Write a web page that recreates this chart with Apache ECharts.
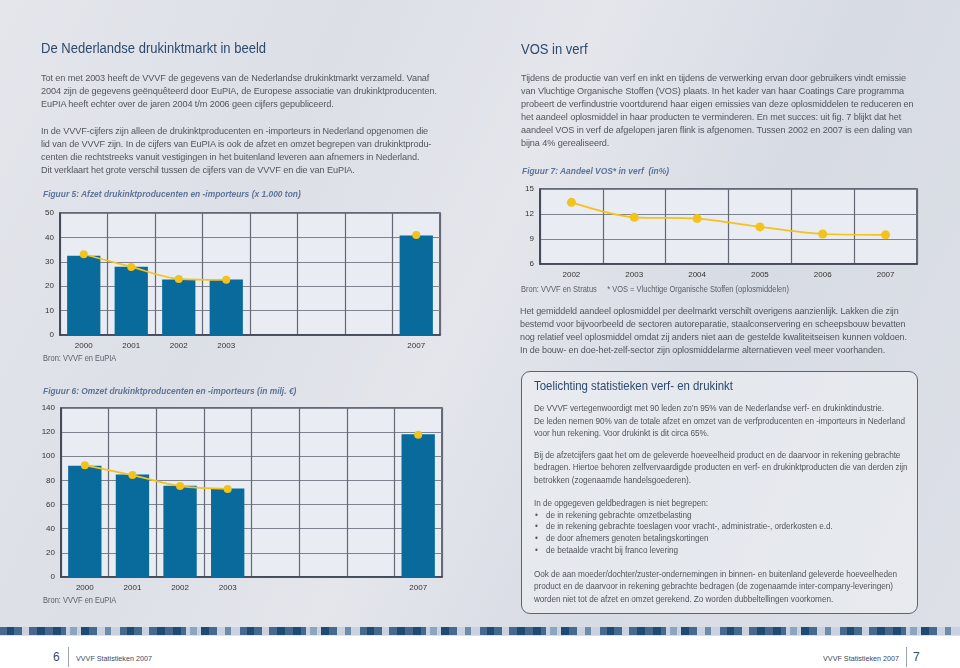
<!DOCTYPE html>
<html>
<head>
<meta charset="utf-8">
<script src="https://cdn.jsdelivr.net/npm/echarts@6/dist/echarts.min.js"></script>
<style>
  html, body { margin:0; padding:0; }
  body { width:960px; height:668px; position:relative; overflow:hidden;
    font-family:"Liberation Sans", Arial, Helvetica, sans-serif;
    background: linear-gradient(115deg, #e4e6ec 0%, #dcdfe6 28%, #e4e6ec 48%, #d7dbe3 68%, #dde0e7 100%); }
  #chart { position:absolute; left:0; top:0; width:960px; height:668px; }
  .t { position:absolute; white-space:nowrap; color:#52565d; transform-origin:left top; }
  .h1 { font-size:14px; line-height:18px; color:#2d4a6d; transform:scaleX(0.93); }
  .p { font-size:9.4px; line-height:13px; letter-spacing:-0.1px; transform:scaleX(0.975); }
  .cap { font-size:9.6px; line-height:13px; font-weight:bold; font-style:italic; color:#5c7599; transform:scaleX(0.877); }
  .src { font-size:8.6px; line-height:13px; color:#5a5e66; transform:scaleX(0.872); }
  .box { position:absolute; left:521px; top:371px; width:395px; height:241px; border:1px solid #55657a;
    border-radius:9px; background:rgba(240,242,246,0.55); }
  .bt { font-size:12.4px; line-height:16px; color:#2d4a6d; transform:scaleX(0.92); }
  .bp { font-size:8.2px; line-height:12.5px; letter-spacing:-0.05px; }
  .bul { position:absolute; left:2px; }
  #stripe { position:absolute; left:0; top:627px; width:960px; height:8px;
    background: repeating-linear-gradient(to right,
      #46698f 0px, #46698f 7px, #1d4b73 7px, #1d4b73 14px, #46698f 14px, #46698f 22px,
      #c9d2de 22px, #c9d2de 29px,
      #46698f 29px, #46698f 37px, #1d4b73 37px, #1d4b73 45px, #46698f 45px, #46698f 53px, #1d4b73 53px, #1d4b73 61px, #46698f 61px, #46698f 66px,
      #c9d2de 66px, #c9d2de 70px, #8ea5bf 70px, #8ea5bf 77px, #c9d2de 77px, #c9d2de 81px,
      #1d4b73 81px, #1d4b73 89px, #46698f 89px, #46698f 97px, #c9d2de 97px, #c9d2de 105px,
      #6f8bab 105px, #6f8bab 111px, #c9d2de 111px, #c9d2de 120px); }
  #footer { position:absolute; left:0; top:636px; width:960px; height:32px; background:#ffffff; }
  .pn { position:absolute; font-size:12px; color:#3a4a60; top:650px; }
  .ft { position:absolute; font-size:7.2px; color:#3a4a60; top:653.5px; white-space:nowrap; }
  .sep { position:absolute; top:647px; width:1px; height:20px; background:#9aa3b0; }
</style>
</head>
<body>
<div id="stripe"></div>
<div id="footer"></div>
<div class="pn" style="left:53px;">6</div>
<div class="sep" style="left:68px;"></div>
<div class="ft" style="left:76px;">VVVF Statistieken 2007</div>
<div class="ft" style="right:61px;">VVVF Statistieken 2007</div>
<div class="sep" style="left:906px;"></div>
<div class="pn" style="left:913px;">7</div>

<div class="box"></div>
<div id="chart"></div>

<div class="t h1" style="left:41px; top:39px;">De Nederlandse drukinktmarkt in beeld</div>
<div class="t p" style="left:41px; top:70.5px;">Tot en met 2003 heeft de VVVF de gegevens van de Nederlandse drukinktmarkt verzameld. Vanaf<br>2004 zijn de gegevens geënquêteerd door EuPIA, de Europese associatie van drukinktproducenten.<br>EuPIA heeft echter over de jaren 2004 t/m 2006 geen cijfers gepubliceerd.</div>
<div class="t p" style="left:41px; top:123.5px;">In de VVVF-cijfers zijn alleen de drukinktproducenten en -importeurs in Nederland opgenomen die<br>lid van de VVVF zijn. In de cijfers van EuPIA is ook de afzet en omzet begrepen van drukinktprodu-<br>centen die rechtstreeks vanuit vestigingen in het buitenland leveren aan afnemers in Nederland.<br>Dit verklaart het grote verschil tussen de cijfers van de VVVF en die van EuPIA.</div>
<div class="t cap" style="left:43px; top:186.5px;">Figuur 5: Afzet drukinktproducenten en -importeurs (x 1.000 ton)</div>
<div class="t src" style="left:43px; top:351.5px;">Bron: VVVF en EuPIA</div>
<div class="t cap" style="left:43px; top:383.5px;">Figuur 6: Omzet drukinktproducenten en -importeurs (in milj. €)</div>
<div class="t src" style="left:43px; top:593.5px;">Bron: VVVF en EuPIA</div>

<div class="t h1" style="left:521px; top:40px;">VOS in verf</div>
<div class="t p" style="left:521px; top:70.5px;">Tijdens de productie van verf en inkt en tijdens de verwerking ervan door gebruikers vindt emissie<br>van Vluchtige Organische Stoffen (VOS) plaats. In het kader van haar Coatings Care programma<br>probeert de verfindustrie voortdurend haar eigen emissies van deze oplosmiddelen te reduceren en<br>het aandeel oplosmiddel in haar producten te verminderen. En met succes: uit fig. 7 blijkt dat het<br>aandeel VOS in verf de afgelopen jaren flink is afgenomen. Tussen 2002 en 2007 is een daling van<br>bijna 4% gerealiseerd.</div>
<div class="t cap" style="left:522px; top:163.5px;">Figuur 7: Aandeel VOS* in verf&nbsp; (in%)</div>
<div class="t src" style="left:521px; top:282.5px;">Bron: VVVF en Stratus&nbsp;&nbsp;&nbsp;&nbsp; * VOS = Vluchtige Organische Stoffen (oplosmiddelen)</div>
<div class="t p" style="left:520px; top:303.5px; line-height:13.3px; transform:scaleX(0.963);">Het gemiddeld aandeel oplosmiddel per deelmarkt verschilt overigens aanzienlijk. Lakken die zijn<br>bestemd voor bijvoorbeeld de sectoren autoreparatie, staalconservering en scheepsbouw bevatten<br>nog relatief veel oplosmiddel omdat zij anders niet aan de gestelde kwaliteitseisen kunnen voldoen.<br>In de bouw- en doe-het-zelf-sector zijn oplosmiddelarme alternatieven veel meer voorhanden.</div>

<div class="t bt" style="left:534px; top:378px;">Toelichting statistieken verf- en drukinkt</div>
<div class="t bp" style="left:534px; top:403px;">De VVVF vertegenwoordigt met 90 leden zo’n 95% van de Nederlandse verf- en drukinktindustrie.<br>De leden nemen 90% van de totale afzet en omzet van de verfproducenten en -importeurs in Nederland<br>voor hun rekening. Voor drukinkt is dit circa 65%.</div>
<div class="t bp" style="left:534px; top:449.75px;">Bij de afzetcijfers gaat het om de geleverde hoeveelheid product en de daarvoor in rekening gebrachte<br>bedragen. Hiertoe behoren zelfvervaardigde producten en verf- en drukinktproducten die van derden zijn<br>betrokken (zogenaamde handelsgoederen).</div>
<div class="t bp" style="left:534px; top:497.75px; line-height:11.8px;">In de opgegeven geldbedragen is niet begrepen:</div>
<div class="t bp" style="left:546px; top:509.55px; line-height:11.8px;"><span class="bul" style="left:-11px;">•</span>de in rekening gebrachte omzetbelasting<br><span class="bul" style="left:-11px;top:11.8px;">•</span>de in rekening gebrachte toeslagen voor vracht-, administratie-, orderkosten e.d.<br><span class="bul" style="left:-11px;top:23.6px;">•</span>de door afnemers genoten betalingskortingen<br><span class="bul" style="left:-11px;top:35.4px;">•</span>de betaalde vracht bij franco levering</div>
<div class="t bp" style="left:534px; top:568.75px;">Ook de aan moeder/dochter/zuster-ondernemingen in binnen- en buitenland geleverde hoeveelheden<br>product en de daarvoor in rekening gebrachte bedragen (de zogenaamde inter-company-leveringen)<br>worden niet tot de afzet en omzet gerekend. Zo worden dubbeltellingen voorkomen.</div>

<script>
// ---- data ----
const years = ['2000', '2001', '2002', '2003', '2004', '2005', '2006', '2007'];
const yearLabels = ['2000', '2001', '2002', '2003', '', '', '', '2007'];
const afzetBars = [32.5, 28, 22.7, 22.7, null, null, null, 40.8];
const afzetLine = [33.1, 27.9, 23.0, 22.6, null, null, null, 41.0];
const omzetBars = [92.2, 85.0, 75.6, 73.3, null, null, null, 118.3];
const omzetLine = [92.5, 84.4, 75.3, 73.0, null, null, null, 117.8];
const vosYears = ['2002', '2003', '2004', '2005', '2006', '2007'];
const vosValues = [13.4, 11.6, 11.45, 10.45, 9.6, 9.5];
const afzetTicks = { min: 0, max: 50, interval: 10 };
const omzetTicks = { min: 0, max: 140, interval: 20 };
const vosTicks = { min: 6, max: 15, interval: 3 };

// ---- styles ----
const barColor = '#086b9c';
const lineColor = '#f3c21c';
const gridStyle = { show: true, backgroundColor: '#e9ecf2', borderColor: '#3b4252', borderWidth: 1.5 };
const labelStyle = { color: '#333', fontSize: 8, fontFamily: 'Liberation Sans, Arial, sans-serif' };

function xAxis(gridIndex, data, labels) {
  return {
    type: 'category', gridIndex, data, boundaryGap: true,
    axisLine: { lineStyle: { color: '#3b4252', width: 1.5 } },
    axisTick: { show: false },
    axisLabel: Object.assign({ margin: 7, interval: 0,
      formatter: (v, i) => labels[i] }, labelStyle),
    splitLine: { show: true, lineStyle: { color: '#636a76', width: 1.2 } }
  };
}
function yAxis(gridIndex, t) {
  return {
    type: 'value', gridIndex, min: t.min, max: t.max, interval: t.interval,
    axisLine: { show: true, lineStyle: { color: '#3b4252', width: 1.5 } },
    axisTick: { show: false },
    axisLabel: Object.assign({ margin: 6 }, labelStyle),
    splitLine: { show: true, lineStyle: { color: '#7d8490', width: 1 } }
  };
}
function lineSeries(idx, data, size) {
  return {
    type: 'line', xAxisIndex: idx, yAxisIndex: idx, data, smooth: 0.3,
    connectNulls: false, symbol: 'circle', symbolSize: size, showSymbol: true,
    lineStyle: { color: lineColor, width: 1.7 },
    itemStyle: { color: lineColor }, z: 5, animation: false
  };
}

const chart = echarts.init(document.getElementById('chart'), null, { renderer: 'canvas' });
chart.setOption({
  animation: false,
  backgroundColor: 'transparent',
  grid: [
    Object.assign({ left: 60, top: 213, width: 380, height: 122 }, gridStyle),
    Object.assign({ left: 61, top: 408, width: 381, height: 169 }, gridStyle),
    Object.assign({ left: 540, top: 189, width: 377, height: 75 }, gridStyle)
  ],
  xAxis: [
    xAxis(0, years, yearLabels),
    xAxis(1, years, yearLabels),
    xAxis(2, vosYears, vosYears)
  ],
  yAxis: [
    yAxis(0, afzetTicks),
    yAxis(1, omzetTicks),
    yAxis(2, vosTicks)
  ],
  series: [
    { type: 'bar', xAxisIndex: 0, yAxisIndex: 0, data: afzetBars, barWidth: '70%',
      itemStyle: { color: barColor } },
    lineSeries(0, afzetLine, 8),
    { type: 'bar', xAxisIndex: 1, yAxisIndex: 1, data: omzetBars, barWidth: '70%',
      itemStyle: { color: barColor } },
    lineSeries(1, omzetLine, 8),
    lineSeries(2, vosValues, 9)
  ]
});
</script>
</body>
</html>
